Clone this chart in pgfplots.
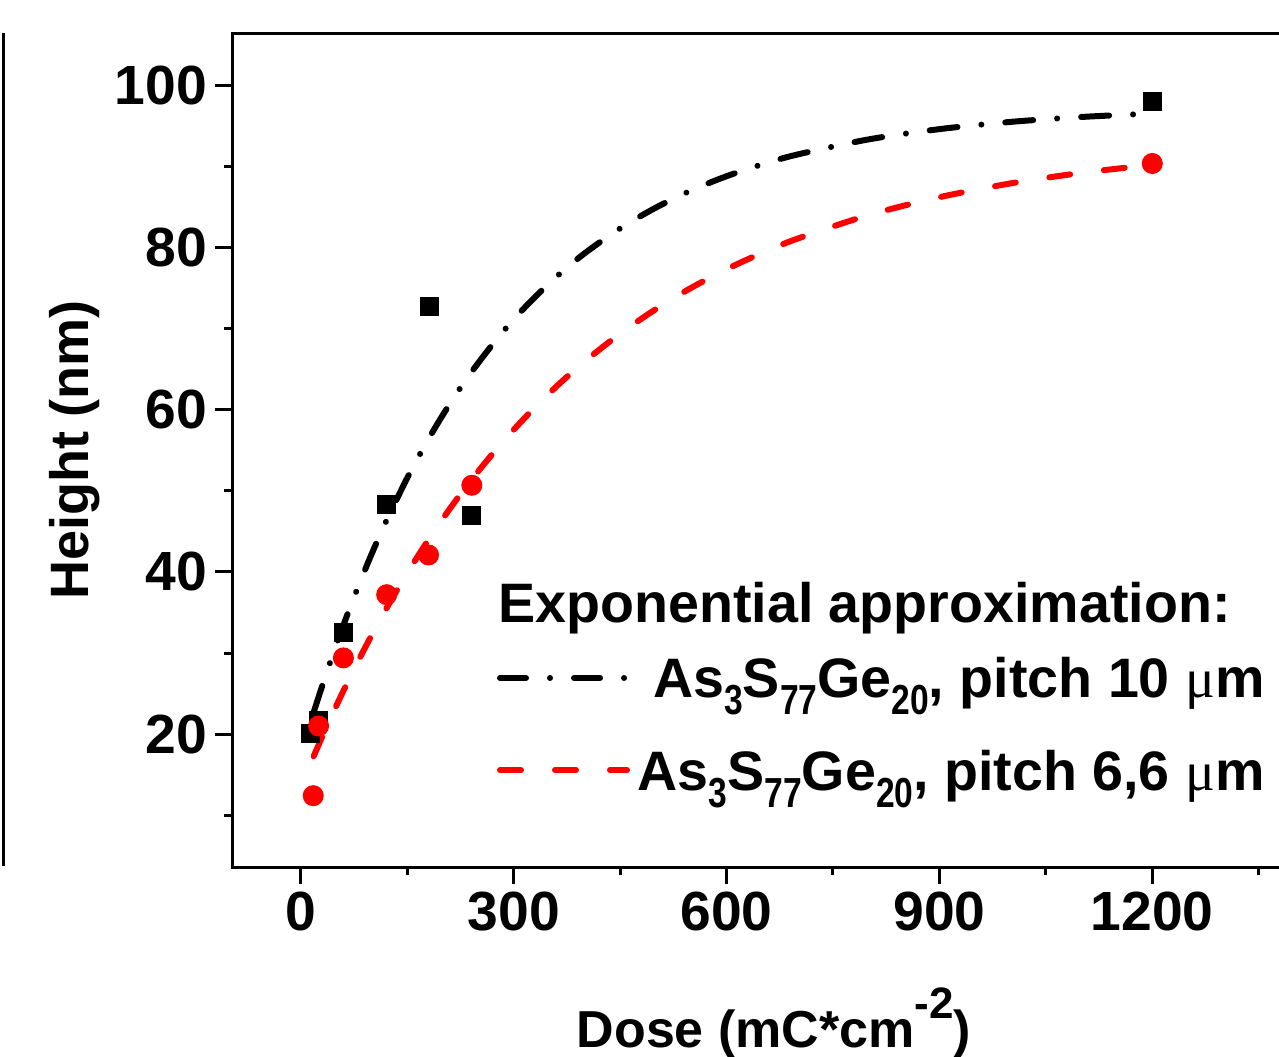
\documentclass[border=0pt]{standalone}
\usepackage{fontspec}
\setmainfont{Liberation Sans}
\newfontfamily\serif{Liberation Serif}
\usepackage{pgfplots}
\pgfplotsset{compat=1.18}
\definecolor{myred}{RGB}{255,0,0}
\newcommand{\sub}[1]{\raisebox{-0.32em}{\scalebox{0.8}[1]{\fontsize{21bp}{21bp}\selectfont #1}}}
\begin{document}
\begin{tikzpicture}
\useasboundingbox (0,0) rectangle (639.5bp,-528.5bp);
% edge of the neighbouring panel
\draw[line width=1.5bp] (1.5bp,-16.5bp) -- (1.5bp,-433bp);
\begin{axis}[
  at={(116bp,-433.5bp)}, anchor=south west,
  scale only axis, width=524bp, height=417bp,
  line width=1.5bp,
  xmin=-97, xmax=1380, ymin=3.6, ymax=106.5,
  xtick={0,300,600,900,1200}, minor xtick={150,450,750,1050,1350},
  ytick={20,40,60,80,100}, minor ytick={10,30,50,70,90},
  tick align=outside, xtick pos=bottom, ytick pos=left,
  major tick length=8.5bp, minor tick length=4bp,
  every tick/.style={line width=1.5bp, black},
  /pgf/number format/assume math mode=true,
  /pgf/number format/1000 sep={},
  tick label style={font=\fontsize{27.6bp}{31bp}\selectfont\bfseries},
  clip=false,
]
% data
\addplot[only marks, mark=square*, mark size=4.5bp, black, mark options={line width=0.5bp}]
  coordinates {(13.5,20.1) (24.6,21.7) (60.3,32.5) (121,48.3) (181,72.7) (241,47.0) (1200,98.0)};
\addplot[only marks, mark=*, mark size=5bp, myred, mark options={line width=0.5bp}]
  coordinates {(17.5,12.4) (25,21.0) (60,29.4) (121,37.2) (180,42.1) (241,50.7) (1200,90.4)};
% exponential approximation, pitch 10 um
\addplot[black, line width=3bp, line cap=round, dash pattern=on 14bp off 12bp on 0.01bp off 12bp, smooth]
  coordinates {(18,22.66) (30,25.91) (45,29.78) (60,33.44) (80,38.01) (100,42.26) (120,46.20)
  (150,51.60) (180,56.43) (210,60.75) (240,64.61) (280,69.14) (320,73.04) (360,76.41)
  (400,79.32) (450,82.39) (500,84.94) (550,87.07) (600,88.83) (650,90.29) (700,91.51)
  (800,93.37) (900,94.64) (1000,95.53) (1100,96.14) (1200,96.56)};
% exponential approximation, pitch 6,6 um
\addplot[myred, line width=3bp, line cap=round, dash pattern=on 10.5bp off 17bp, smooth]
  coordinates {(18,17.25) (30,19.65) (45,22.55) (60,25.33) (80,28.87) (100,32.23) (120,35.41)
  (150,39.87) (180,43.99) (210,47.80) (240,51.32) (280,55.59) (320,59.42) (360,62.87)
  (400,65.97) (450,69.40) (500,72.41) (550,75.05) (600,77.35) (650,79.37) (700,81.13)
  (800,84.03) (900,86.24) (1000,87.94) (1100,89.24) (1200,90.24)};
\end{axis}
% axis labels
\node[anchor=base, inner sep=0pt, font=\fontsize{26bp}{32bp}\selectfont\bfseries] at (387bp,-523.5bp)
  {Dose (mC*cm\raisebox{0.55em}{\fontsize{22bp}{22bp}\selectfont\bfseries -2})};
\node[anchor=base, rotate=90, font=\fontsize{27bp}{32bp}\selectfont\bfseries] at (44bp,-225bp)
  {Height (nm)};
% legend
\node[anchor=base west, inner sep=0pt, font=\fontsize{27.8bp}{32bp}\selectfont\bfseries] at (249bp,-311bp)
  {Exponential approximation:};
\draw[black, line width=3bp, line cap=round, dash pattern=on 13bp off 12bp on 0.01bp off 12bp]
  (250bp,-339bp) -- (312.5bp,-339bp);
\node[anchor=base east, inner sep=0pt, font=\fontsize{27.8bp}{32bp}\selectfont\bfseries] at (632.5bp,-348.5bp)
  {As\sub{3}S\sub{77}Ge\sub{20}, pitch 10 {\serif\mdseries μ}m};
\draw[myred, line width=3bp, line cap=round, dash pattern=on 10.5bp off 17bp]
  (250bp,-385bp) -- (313.5bp,-385bp);
\node[anchor=base east, inner sep=0pt, font=\fontsize{27.8bp}{32bp}\selectfont\bfseries] at (632.5bp,-395bp)
  {As\sub{3}S\sub{77}Ge\sub{20}, pitch 6,6 {\serif\mdseries μ}m};
\end{tikzpicture}
\end{document}
